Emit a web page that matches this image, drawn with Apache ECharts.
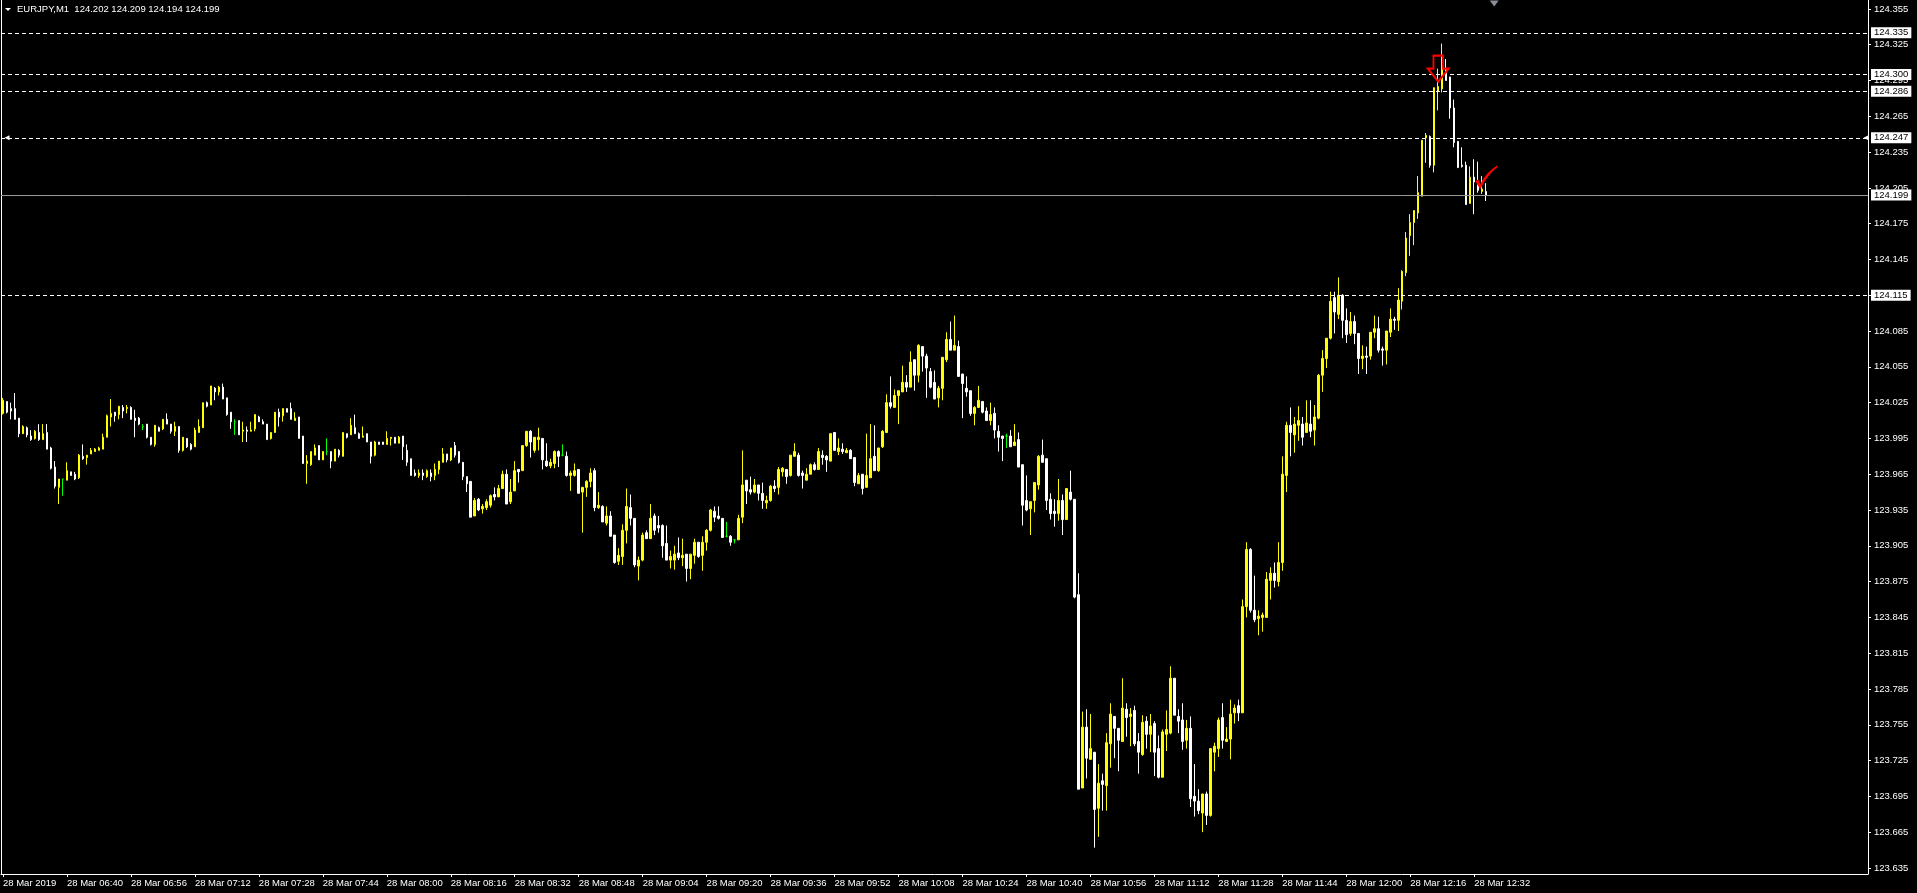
<!DOCTYPE html>
<html><head><meta charset="utf-8">
<script src="https://cdn.jsdelivr.net/npm/echarts@6/dist/echarts.min.js"></script>
<style>html,body{margin:0;padding:0;background:#000;}#c{width:1917px;height:893px;}</style>
</head><body><div id="c"></div>
<script>
const symbolName = 'EURJPY,M1';
const dayLabel = '28 Mar';
const firstLabel = '28 Mar 2019';
const startHour = 6, startMinute = 24;
const totalSlots = 467;

const opens = [
124.016,124.026,124.020,124.020,124.012,123.999,124.004,123.997,123.995,124.000,
123.994,124.000,123.987,123.971,123.954,123.961,123.960,123.967,123.965,123.962,
123.980,123.979,123.982,123.984,123.985,123.986,123.996,124.013,124.017,124.015,
124.021,124.020,124.021,124.012,124.012,124.005,124.007,123.996,123.990,124.004,
124.003,124.011,124.007,124.001,124.005,123.985,123.995,123.990,123.988,124.000,
124.004,124.025,124.023,124.037,124.034,124.038,124.029,124.017,124.009,124.010,
124.001,124.002,124.001,124.003,124.013,124.009,124.007,123.995,124.000,124.017,
124.014,124.020,124.020,124.010,124.013,123.997,123.974,123.973,123.981,123.989,
123.977,123.984,123.984,123.976,123.985,123.980,123.999,123.998,124.004,123.999,
123.996,123.999,123.992,123.981,123.992,123.992,123.990,123.995,123.996,123.991,
123.997,123.985,123.978,123.966,123.964,123.966,123.963,123.966,123.964,123.969,
123.975,123.982,123.977,123.989,123.984,123.975,123.963,123.959,123.930,123.944,
123.936,123.937,123.939,123.948,123.946,123.953,123.965,123.942,123.951,123.969,
123.968,123.989,124.001,123.985,123.994,123.995,123.976,123.972,123.974,123.984,
123.981,123.980,123.964,123.964,123.969,123.950,123.954,123.959,123.968,123.937,
123.938,123.924,123.930,123.914,123.892,123.896,123.918,123.937,123.928,123.888,
123.893,123.916,123.911,123.930,123.922,123.922,123.907,123.893,123.893,123.899,
123.895,123.898,123.886,123.897,123.908,123.897,123.908,123.918,123.934,123.930,
123.928,123.913,123.913,123.910,123.910,123.929,123.960,123.952,123.950,123.956,
123.949,123.941,123.943,123.955,123.954,123.967,123.969,123.964,123.980,123.981,
123.966,123.960,123.965,123.973,123.969,123.981,123.980,123.976,124.000,123.984,
123.986,123.983,123.985,123.979,123.957,123.965,123.954,123.962,123.980,123.968,
123.988,124.000,124.025,124.021,124.031,124.034,124.042,124.038,124.061,124.048,
124.072,124.064,124.051,124.042,124.029,124.037,124.061,124.078,124.069,124.072,
124.049,124.037,124.035,124.016,124.021,124.026,124.018,124.010,124.016,124.001,
123.997,123.997,123.997,123.989,123.994,123.973,123.943,123.936,123.943,123.956,
123.981,123.978,123.944,123.934,123.932,123.943,123.927,123.950,123.944,123.864,
123.702,123.753,123.726,123.732,123.685,123.708,123.704,123.739,123.762,123.752,
123.741,123.768,123.762,123.767,123.741,123.730,123.758,123.747,123.756,123.735,
123.711,123.747,123.748,123.794,123.762,123.759,123.742,123.752,123.695,123.691,
123.681,123.697,123.679,123.732,123.735,123.761,123.741,123.743,123.765,123.771,
123.765,123.854,123.902,123.851,123.844,123.845,123.845,123.876,123.882,123.875,
123.891,123.964,124.006,123.998,124.006,124.007,124.000,124.007,124.002,124.012,
124.048,124.062,124.079,124.113,124.099,124.115,124.094,124.083,124.093,124.083,
124.062,124.064,124.064,124.084,124.087,124.070,124.069,124.084,124.095,124.094,
124.110,124.134,124.165,124.176,124.184,124.198,124.247,124.248,124.224,124.286,
124.288,124.305,124.298,124.272,124.244,124.224,124.224,124.192,124.214,124.210,
124.202,124.202];

const highs = [
124.029,124.026,124.025,124.033,124.012,124.006,124.005,124.002,124.002,124.007,
124.007,124.007,123.988,123.976,123.961,123.961,123.975,123.967,123.967,123.982,
123.990,123.981,123.987,123.987,123.988,123.999,124.015,124.028,124.017,124.022,
124.023,124.023,124.022,124.019,124.013,124.007,124.007,123.996,124.006,124.005,
124.011,124.016,124.007,124.009,124.005,123.996,123.995,123.991,124.004,124.011,
124.025,124.026,124.039,124.038,124.039,124.041,124.029,124.017,124.011,124.010,
124.009,124.005,124.009,124.015,124.014,124.011,124.007,124.000,124.017,124.020,
124.020,124.020,124.025,124.017,124.013,123.997,123.981,123.984,123.990,123.989,
123.984,123.995,123.984,123.986,123.986,124.000,123.999,124.012,124.015,124.000,
124.005,123.999,123.992,123.993,123.992,123.992,124.001,123.996,123.996,123.997,
123.997,123.990,123.978,123.969,123.969,123.969,123.969,123.969,123.974,123.976,
123.987,123.982,123.987,123.992,123.984,123.975,123.963,123.959,123.945,123.945,
123.940,123.944,123.948,123.954,123.956,123.968,123.969,123.961,123.976,123.969,
123.989,124.001,124.002,123.996,124.004,123.995,123.991,123.978,123.985,123.985,
123.990,123.984,123.968,123.974,123.969,123.954,123.960,123.970,123.970,123.950,
123.939,123.938,123.934,123.914,123.903,123.923,123.953,123.948,123.928,123.896,
123.916,123.918,123.940,123.932,123.930,123.923,123.922,123.901,123.905,123.912,
123.911,123.898,123.898,123.911,123.908,123.913,123.919,123.936,123.938,123.938,
123.928,123.925,123.914,123.910,123.931,123.985,123.960,123.963,123.961,123.956,
123.958,123.947,123.956,123.960,123.971,123.971,123.969,123.981,123.991,123.983,
123.968,123.970,123.974,123.975,123.987,123.985,123.981,123.999,124.000,123.995,
123.991,123.987,123.986,123.979,123.966,123.965,123.999,124.007,124.006,123.987,
124.002,124.032,124.047,124.036,124.035,124.056,124.048,124.068,124.061,124.074,
124.072,124.066,124.054,124.052,124.039,124.063,124.084,124.093,124.098,124.077,
124.049,124.047,124.035,124.022,124.039,124.026,124.021,124.025,124.021,124.006,
123.997,123.999,124.002,124.007,124.000,123.973,123.964,123.942,123.958,123.981,
123.994,123.978,123.949,123.944,123.961,123.948,123.953,123.968,123.944,123.882,
123.766,123.768,123.764,123.732,123.722,123.714,123.748,123.773,123.762,123.752,
123.794,123.773,123.769,123.771,123.748,123.763,123.762,123.764,123.758,123.746,
123.751,123.767,123.804,123.794,123.768,123.773,123.759,123.762,123.722,123.701,
123.697,123.699,123.735,123.740,123.761,123.773,123.753,123.776,123.772,123.776,
123.860,123.908,123.903,123.880,123.851,123.849,123.883,123.887,123.891,123.908,
123.980,124.009,124.021,124.013,124.022,124.013,124.027,124.027,124.023,124.049,
124.069,124.079,124.118,124.118,124.130,124.116,124.104,124.101,124.098,124.083,
124.073,124.072,124.084,124.098,124.097,124.072,124.085,124.104,124.097,124.121,
124.136,124.168,124.183,124.186,124.215,124.245,124.251,124.249,124.289,124.305,
124.326,124.313,124.298,124.279,124.244,124.239,124.227,124.223,124.229,124.227,
124.215,124.209];

const lows = [
124.015,124.016,124.011,124.011,123.996,123.999,123.996,123.993,123.994,123.993,
123.994,123.986,123.969,123.953,123.940,123.947,123.960,123.964,123.960,123.961,
123.977,123.973,123.982,123.984,123.985,123.986,123.996,124.005,124.009,124.011,
124.012,124.016,124.011,123.996,124.006,124.002,123.995,123.989,123.988,124.001,
124.002,124.007,123.999,123.997,123.983,123.984,123.987,123.985,123.988,124.000,
124.004,124.021,124.023,124.027,124.031,124.028,124.014,124.003,123.998,123.998,
123.992,123.992,124.001,124.001,124.009,124.007,123.994,123.994,124.000,124.005,
124.009,124.017,124.011,124.010,123.995,123.974,123.957,123.972,123.981,123.977,
123.977,123.981,123.970,123.976,123.979,123.980,123.995,123.998,123.999,123.995,
123.996,123.992,123.974,123.980,123.990,123.990,123.990,123.989,123.991,123.991,
123.977,123.972,123.964,123.963,123.962,123.960,123.962,123.959,123.960,123.965,
123.975,123.975,123.976,123.979,123.974,123.960,123.950,123.929,123.930,123.934,
123.932,123.935,123.937,123.943,123.946,123.953,123.940,123.940,123.951,123.958,
123.968,123.988,123.979,123.983,123.985,123.969,123.971,123.970,123.970,123.971,
123.980,123.963,123.951,123.963,123.949,123.916,123.946,123.954,123.934,123.936,
123.925,123.922,123.913,123.890,123.889,123.889,123.907,123.922,123.887,123.876,
123.892,123.911,123.911,123.914,123.916,123.895,123.893,123.886,123.885,123.893,
123.888,123.875,123.877,123.890,123.895,123.884,123.901,123.917,123.925,123.927,
123.912,123.912,123.905,123.907,123.910,123.924,123.940,123.948,123.949,123.943,
123.936,123.936,123.942,123.950,123.948,123.963,123.957,123.963,123.980,123.963,
123.953,123.960,123.965,123.968,123.969,123.973,123.967,123.976,123.985,123.981,
123.982,123.983,123.978,123.955,123.957,123.948,123.954,123.962,123.968,123.967,
123.987,124.000,124.020,124.021,124.007,124.034,124.034,124.038,124.035,124.042,
124.051,124.029,124.037,124.028,124.021,124.027,124.059,124.069,124.069,124.047,
124.012,124.030,124.014,124.006,124.021,124.016,124.010,124.006,123.995,123.984,
123.976,123.987,123.988,123.989,123.971,123.922,123.934,123.914,123.933,123.952,
123.975,123.935,123.927,123.921,123.926,123.914,123.927,123.943,123.861,123.701,
123.702,123.710,123.726,123.652,123.661,123.683,123.683,123.719,123.727,123.716,
123.741,123.745,123.737,123.737,123.714,123.729,123.735,123.732,123.712,123.710,
123.711,123.733,123.747,123.763,123.748,123.734,123.735,123.686,123.678,123.680,
123.665,123.671,123.678,123.716,123.728,123.735,123.741,123.726,123.756,123.758,
123.765,123.845,123.849,123.841,123.830,123.833,123.845,123.860,123.870,123.871,
123.884,123.950,123.980,123.983,123.993,123.989,124.000,123.996,123.989,124.011,
124.034,124.054,124.078,124.083,124.095,124.079,124.075,124.081,124.074,124.049,
124.053,124.049,124.061,124.079,124.067,124.056,124.057,124.080,124.086,124.085,
124.103,124.131,124.148,124.157,124.179,124.198,124.226,124.222,124.218,124.270,
124.285,124.295,124.263,124.239,124.222,124.222,124.191,124.192,124.183,124.201,
124.200,124.194];

const closes = [
124.027,124.017,124.018,124.011,123.999,124.005,123.998,123.994,124.001,123.994,
123.999,123.986,123.970,123.955,123.961,123.961,123.968,123.964,123.961,123.981,
123.978,123.981,123.985,123.986,123.987,123.996,124.014,124.016,124.014,124.022,
124.018,124.021,124.011,124.010,124.007,124.005,123.996,123.990,124.006,124.001,
124.011,124.007,124.001,124.005,123.985,123.996,123.988,123.986,124.002,124.005,
124.025,124.022,124.039,124.034,124.038,124.028,124.015,124.009,124.009,123.998,
124.002,124.001,124.002,124.015,124.009,124.007,123.994,124.000,124.017,124.013,
124.020,124.017,124.011,124.012,123.995,123.974,123.976,123.984,123.987,123.977,
123.984,123.984,123.976,123.986,123.981,124.000,123.996,124.006,123.999,123.995,
123.997,123.992,123.980,123.992,123.990,123.990,123.995,123.996,123.991,123.996,
123.988,123.975,123.964,123.964,123.966,123.964,123.968,123.963,123.969,123.976,
123.982,123.977,123.987,123.981,123.975,123.963,123.957,123.929,123.943,123.935,
123.938,123.942,123.947,123.946,123.953,123.965,123.940,123.950,123.968,123.967,
123.989,124.001,123.992,123.996,123.996,123.977,123.972,123.975,123.984,123.980,
123.981,123.964,123.966,123.968,123.949,123.954,123.959,123.966,123.937,123.939,
123.925,123.930,123.913,123.891,123.897,123.918,123.938,123.928,123.889,123.893,
123.914,123.911,123.928,123.918,123.920,123.905,123.893,123.896,123.898,123.895,
123.897,123.886,123.898,123.908,123.896,123.908,123.918,123.935,123.929,123.928,
123.912,123.913,123.908,123.910,123.928,123.956,123.951,123.950,123.956,123.949,
123.943,123.943,123.955,123.953,123.969,123.970,123.963,123.981,123.984,123.964,
123.964,123.965,123.973,123.969,123.984,123.979,123.977,123.999,123.985,123.987,
123.984,123.985,123.978,123.958,123.964,123.953,123.964,123.978,123.968,123.987,
124.001,124.025,124.022,124.031,124.035,124.042,124.038,124.059,124.048,124.073,
124.064,124.054,124.038,124.028,124.037,124.063,124.078,124.069,124.073,124.047,
124.041,124.034,124.016,124.021,124.027,124.017,124.010,124.015,124.002,123.996,
123.995,123.997,123.988,123.992,123.971,123.939,123.935,123.942,123.958,123.980,
123.975,123.943,123.932,123.932,123.943,123.927,123.953,123.944,123.862,123.701,
123.753,123.727,123.735,123.684,123.706,123.705,123.740,123.764,123.752,123.742,
123.769,123.761,123.764,123.739,123.732,123.757,123.747,123.754,123.732,123.711,
123.749,123.751,123.794,123.763,123.758,123.741,123.752,123.693,123.691,123.683,
123.697,123.679,123.735,123.737,123.759,123.742,123.743,123.764,123.769,123.765,
123.854,123.902,123.851,123.843,123.846,123.847,123.877,123.882,123.876,123.891,
123.965,124.006,124.000,124.007,124.010,123.996,124.008,124.001,124.013,124.048,
124.062,124.079,124.110,124.101,124.115,124.094,124.082,124.093,124.083,124.062,
124.064,124.063,124.084,124.087,124.069,124.069,124.085,124.095,124.094,124.111,
124.135,124.163,124.176,124.186,124.201,124.245,124.249,124.224,124.289,124.290,
124.307,124.295,124.272,124.243,124.222,124.223,124.191,124.214,124.210,124.203,
124.204,124.199];

const yTickValues = [123.635,123.665,123.695,123.725,123.755,123.785,123.815,123.845,123.875,123.905,
123.935,123.965,123.995,124.025,124.055,124.085,124.115,124.145,124.175,124.205,124.235,124.265,124.295,124.325,124.355];
const dashedLevels = [124.335, 124.300, 124.286, 124.247, 124.115];
const bidLevel = 124.199;
const yMin = 123.6299, yMax = 124.3625;
const labelEvery = 16;

// minute categories
const categories = [];
for (let k = 0; k < totalSlots; k++) {
  const t = startHour * 60 + startMinute + k;
  const hh = String(Math.floor(t / 60)).padStart(2, '0');
  const mm = String(t % 60).padStart(2, '0');
  categories.push(hh + ':' + mm);
}
const candleData = opens.map((o, i) => [o, closes[i], lows[i], highs[i]]);
const last = opens.length - 1;
const headerText = symbolName + '  ' + opens[last].toFixed(3) + ' ' + highs[last].toFixed(3) + ' ' + lows[last].toFixed(3) + ' ' + closes[last].toFixed(3);

const FONT = 'Liberation Sans';
const showIdx = (idx) => idx % labelEvery === 0 && idx < opens.length;

const chart = echarts.init(document.getElementById('c'), null, {renderer: 'canvas'});
chart.setOption({
  backgroundColor: '#000000',
  animation: false,
  grid: {left: 0, right: 49, top: 0, bottom: 19, containLabel: false},
  xAxis: {
    type: 'category', data: categories, boundaryGap: true,
    axisLine: {show: true, lineStyle: {color: '#ffffff', width: 1}},
    axisTick: {show: true, alignWithLabel: true, interval: showIdx, length: 3, lineStyle: {color: '#ffffff'}},
    axisLabel: {show: true, interval: showIdx, color: '#ffffff', fontFamily: FONT, fontSize: 9.5, align: 'left', margin: 4,
      formatter: (v, idx) => idx === 0 ? firstLabel : dayLabel + ' ' + v},
    splitLine: {show: false}
  },
  yAxis: [{
    type: 'value', position: 'right', min: yMin, max: yMax, scale: true,
    axisLine: {show: true, lineStyle: {color: '#ffffff', width: 1}},
    axisTick: {show: true, length: 3, customValues: yTickValues, lineStyle: {color: '#ffffff'}},
    axisLabel: {show: true, customValues: yTickValues, color: '#ffffff', fontFamily: FONT, fontSize: 9.5, margin: 6,
      formatter: v => Number(v).toFixed(3)},
    splitLine: {show: false}
  }, {
    type: 'value', position: 'left', min: yMin, max: yMax, scale: true,
    axisLine: {show: true, lineStyle: {color: '#ffffff', width: 1}},
    axisTick: {show: false}, axisLabel: {show: false}, splitLine: {show: false}
  }],
  graphic: [
    {type: 'polygon', shape: {points: [[5, 8], [11, 8], [8, 11]]}, style: {fill: '#ffffff'}, z: 100},
    {type: 'text', left: 17, top: 4, style: {text: headerText, fill: '#ffffff', font: '9.5px "Liberation Sans"'}, z: 100}
  ],
  series: [{
    type: 'candlestick',
    data: candleData,
    yAxisIndex: 0,
    barWidth: 2,
    clip: false,
    large: false,
    itemStyle: {
      color: '#ffff00', color0: '#ffffff',
      borderColor: '#ffff00', borderColor0: '#ffffff', borderColorDoji: '#00ff00',
      borderWidth: 1
    },
    markLine: {
      silent: true, symbol: 'none', animation: false, precision: 3,
      label: {show: true, position: 'end', distance: 3, formatter: p => Number(p.value).toFixed(3),
        backgroundColor: '#ffffff', color: '#000000', fontFamily: FONT, fontSize: 9.5, padding: [1, 3, 0, 3]},
      data: dashedLevels.map(v => ({yAxis: v, lineStyle: {type: [4, 3], color: '#ffffff', width: 1}}))
        .concat([{yAxis: bidLevel, lineStyle: {type: 'solid', color: '#9a9a9a', width: 1}}])
    },
    markPoint: {
      silent: true, animation: false, label: {show: false},
      data: [
        {coord: [358.9, 124.305], symbol: 'path://M6,0 L16,0 L16,13 L22,13 L11,26 L0,13 L6,13 Z', symbolSize: [21, 26],
          itemStyle: {color: 'rgba(0,0,0,0)', borderColor: '#ff0000', borderWidth: 2}},
        {coord: [371.4, 124.214], symbol: 'path://M0,16 L3,14 L5,19 Q11,7 22,0 L22,2 Q12,10 5,24 Z', symbolSize: [22, 24],
          itemStyle: {color: '#ff0000'}},
        {coord: [1, 124.247], symbol: 'triangle', symbolRotate: 90, symbolSize: [5, 5], itemStyle: {color: '#ffffff'}},
        {coord: [466, 124.247], symbol: 'triangle', symbolRotate: 90, symbolSize: [5, 5], itemStyle: {color: '#ffffff'}},
        {coord: [372.75, 124.3595], symbol: 'triangle', symbolRotate: 180, symbolSize: [9, 6], itemStyle: {color: '#8a8f99'}}
      ]
    }
  }]
});
</script>
</body></html>
